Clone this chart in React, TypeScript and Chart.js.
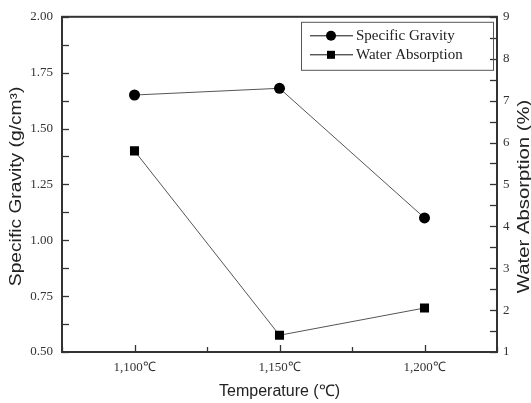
import React, { useEffect, useRef } from "react";
import { Chart, registerables } from "chart.js";

Chart.register(...registerables);

const temperatures = [1100, 1150, 1200];
const specificGravity = [1.65, 1.68, 1.1];
const waterAbsorption = [5.8, 1.4, 2.05];
const seriesLabels = ["Specific Gravity", "Water Absorption"];
const xTitle = "Temperature (℃)";
const yTitle = "Specific Gravity (g/cm³)";
const y1Title = "Water Absorption (%)";

const SERIF = "'Liberation Serif', 'Times New Roman', serif";
const SANS = "'Liberation Sans', Arial, sans-serif";
const FRAME = "#333";

const fmtTemp = (v: number) => v.toLocaleString("en-US") + "℃";

const innerTicks = {
  id: "innerTicks",
  afterDraw(chart: any) {
    const { ctx, chartArea } = chart;
    ctx.save();
    ctx.strokeStyle = FRAME;
    ctx.lineWidth = 2;
    ctx.strokeRect(chartArea.left, chartArea.top, chartArea.right - chartArea.left, chartArea.bottom - chartArea.top);
    ctx.lineWidth = 1.3;
    const sx = chart.scales.x;
    sx.ticks.forEach((t: any) => {
      const p = Math.round(sx.getPixelForValue(t.value)) + 0.5;
      const len = t.label !== "" ? 7 : 5;
      ctx.beginPath();
      ctx.moveTo(p, chartArea.bottom);
      ctx.lineTo(p, chartArea.bottom - len);
      ctx.stroke();
    });
    const sy = chart.scales.y;
    sy.ticks.forEach((t: any) => {
      const p = Math.round(sy.getPixelForValue(t.value)) + 0.5;
      ctx.beginPath();
      ctx.moveTo(chartArea.left, p);
      ctx.lineTo(chartArea.left + 7, p);
      ctx.stroke();
    });
    const sy1 = chart.scales.y1;
    sy1.ticks.forEach((t: any) => {
      const p = Math.round(sy1.getPixelForValue(t.value)) + 0.5;
      ctx.beginPath();
      ctx.moveTo(chartArea.right, p);
      ctx.lineTo(chartArea.right - 7, p);
      ctx.stroke();
    });
    ctx.restore();
  },
};

const sideTitles = {
  id: "sideTitles",
  afterDraw(chart: any) {
    const { ctx, chartArea } = chart;
    const mid = (chartArea.top + chartArea.bottom) / 2;
    const draw = (text: string, x: number, y: number, stretch: number) => {
      ctx.save();
      ctx.translate(x, y);
      ctx.rotate(-Math.PI / 2);
      ctx.scale(stretch, 1);
      ctx.font = `16px ${SANS}`;
      ctx.fillStyle = "#222";
      ctx.textAlign = "center";
      ctx.textBaseline = "middle";
      ctx.fillText(text, 0, 0);
      ctx.restore();
    };
    draw(yTitle, chart.scales.y.left + 17, mid + 2, 1.2);
    draw(y1Title, chart.width - 6, mid + 12, 1.27);
  },
};

const boxLegend = {
  id: "boxLegend",
  afterDraw(chart: any) {
    const { ctx, chartArea } = chart;
    const right = chartArea.right - 4;
    const top = chartArea.top + 5;
    const w = 192;
    const h = 48;
    const left = right - w;
    ctx.save();
    ctx.strokeStyle = "#555";
    ctx.lineWidth = 1;
    ctx.strokeRect(left + 0.5, top + 0.5, w, h);
    chart.data.datasets.forEach((ds: any, i: number) => {
      const y = top + 14 + i * 19;
      ctx.strokeStyle = "#111";
      ctx.lineWidth = 1;
      ctx.beginPath();
      ctx.moveTo(left + 9, y);
      ctx.lineTo(left + 52, y);
      ctx.stroke();
      ctx.fillStyle = "#000";
      const cx = left + 30;
      if (ds.pointStyle === "rect") {
        ctx.fillRect(cx - 4, y - 4, 8, 8);
      } else {
        ctx.beginPath();
        ctx.arc(cx, y, 5, 0, Math.PI * 2);
        ctx.fill();
      }
      ctx.fillStyle = "#222";
      ctx.font = `15px ${SERIF}`;
      ctx.textBaseline = "middle";
      ctx.textAlign = "left";
      ctx.fillText(ds.label, left + 55, y);
    });
    ctx.restore();
  },
};

export default function App() {
  const ref = useRef<HTMLCanvasElement | null>(null);
  useEffect(() => {
    document.body.style.margin = "0";
    if (!ref.current) return;
    const chart = new Chart(ref.current, {
      type: "line",
      data: {
        datasets: [
          {
            label: seriesLabels[0],
            data: temperatures.map((t, i) => ({ x: t, y: specificGravity[i] })),
            yAxisID: "y",
            borderColor: "#555",
            borderWidth: 1,
            pointStyle: "circle",
            pointRadius: 5.5,
            pointBackgroundColor: "#000",
            pointBorderColor: "#000",
            pointBorderWidth: 0,
          },
          {
            label: seriesLabels[1],
            data: temperatures.map((t, i) => ({ x: t, y: waterAbsorption[i] })),
            yAxisID: "y1",
            borderColor: "#555",
            borderWidth: 1,
            pointStyle: "rect",
            pointRadius: 6.4,
            pointBackgroundColor: "#000",
            pointBorderColor: "#000",
            pointBorderWidth: 0,
          },
        ],
      },
      options: {
        animation: false,
        responsive: true,
        maintainAspectRatio: false,
        layout: { padding: { top: 14, left: 0, right: 0, bottom: 0 } },
        plugins: { legend: { display: false }, tooltip: { enabled: false } },
        scales: {
          x: {
            type: "linear",
            min: 1075,
            max: 1225,
            afterFit: (s: any) => {
              s.height = 51;
            },
            grid: { display: false, drawTicks: false },
            border: { display: false },
            ticks: {
              stepSize: 25,
              autoSkip: false,
              maxRotation: 0,
              padding: 8,
              color: "#333",
              font: { family: SERIF, size: 13 },
              callback: (v: any) => (Number(v) % 50 === 0 ? fmtTemp(Number(v)) : ""),
            },
            title: {
              display: true,
              text: xTitle,
              color: "#222",
              font: { family: SANS, size: 16 },
              padding: { top: 0, bottom: 2 },
            },
          },
          y: {
            type: "linear",
            position: "left",
            min: 0.5,
            max: 2.0,
            afterFit: (s: any) => {
              s.width = 62;
            },
            grid: { display: false, drawTicks: false },
            border: { display: false },
            ticks: {
              stepSize: 0.125,
              autoSkip: false,
              maxTicksLimit: 30,
              padding: 9,
              color: "#333",
              font: { family: SERIF, size: 13 },
              callback: (v: any) => {
                const n = Number(v);
                return Math.abs(n / 0.25 - Math.round(n / 0.25)) < 1e-6 ? n.toFixed(2) : "";
              },
            },
            title: { display: false },
          },
          y1: {
            type: "linear",
            position: "right",
            min: 1,
            max: 9,
            afterFit: (s: any) => {
              s.width = 34;
            },
            grid: { display: false, drawTicks: false },
            border: { display: false },
            ticks: {
              stepSize: 0.5,
              autoSkip: false,
              maxTicksLimit: 30,
              padding: 6,
              color: "#333",
              font: { family: SERIF, size: 13 },
              callback: (v: any) => {
                const n = Number(v);
                return Number.isInteger(n) ? String(n) : "";
              },
            },
            title: { display: false },
          },
        },
      },
      plugins: [innerTicks, sideTitles, boxLegend],
    });
    return () => chart.destroy();
  }, []);
  return (
    <div style={{ position: "relative", width: "531px", height: "403px" }}>
      <canvas ref={ref} />
    </div>
  );
}
